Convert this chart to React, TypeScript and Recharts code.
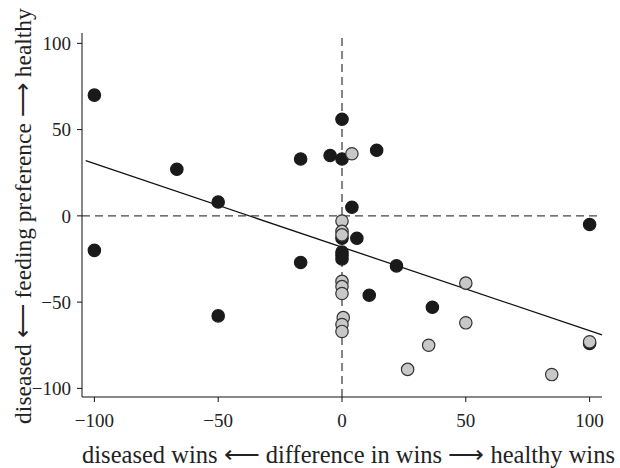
import { ScatterChart, Scatter, XAxis, YAxis, ReferenceLine } from "recharts";

// wins difference vs feeding preference
const blackX = [-100, -100, -66.7, -50, -50, -16.7, -16.7, -4.8, 0, 0, 0, 0, 0, 0, 4, 6, 11, 14, 22, 36.5, 100, 100];
const blackY = [70, -20, 27, 8, -58, 33, -27, 35, 56, 33, -13, -21, -23, -25, 5, -13, -46, 38, -29, -53, -5, -74];

const greyX = [4, 0, 0, 0, 0, 0, 0, 0.5, 0, 0, 26.5, 35, 50, 50, 84.7, 100];
const greyY = [36, -3, -9, -11, -38, -41, -45, -59, -63, -67, -89, -75, -39, -62, -92, -73];

// regression line end points
const fitX = [-103.5, 105];
const fitY = [32, -69];

const ticks = [-100, -50, 0, 50, 100];

const toPoints = (xs: number[], ys: number[]) => xs.map((x, i) => ({ x, y: ys[i] }));

const blackData = toPoints(blackX, blackY);
const greyData = toPoints(greyX, greyY);
const fitData = toPoints(fitX, fitY);

const font = "'Liberation Serif', 'Times New Roman', serif";

const Dot = (fill: string, stroke: string) => (p: any) => (
  <circle cx={p.cx} cy={p.cy} r={6.2} fill={fill} stroke={stroke} strokeWidth={1.2} />
);

export default function App() {
  return (
    <div style={{ position: "absolute", left: 0, top: 0, background: "#fff" }}>
      <ScatterChart width={620} height={468} margin={{ top: 33, right: 18, bottom: 0, left: 0 }}>
        <XAxis
          type="number"
          dataKey="x"
          domain={[-105, 105]}
          ticks={ticks}
          height={71}
          tickSize={5}
          tickMargin={12}
          stroke="#111"
          tick={{ fill: "#222", fontSize: 19, fontFamily: font }}
          tickFormatter={(v) => String(v).replace("-", "\u2212")}
          label={{
            content: () => (
              <text x={348.5} y={463} textAnchor="middle" fill="#222" fontSize={24.5} fontFamily={font}>
                diseased wins ⟵ difference in wins ⟶ healthy wins
              </text>
            ),
          }}
        />
        <YAxis
          type="number"
          dataKey="y"
          domain={[-105, 106]}
          ticks={ticks}
          width={82}
          tickSize={5}
          tickMargin={6}
          stroke="#111"
          tick={{ fill: "#222", fontSize: 19, fontFamily: font }}
          tickFormatter={(v) => String(v).replace("-", "\u2212")}
          label={{
            content: () => (
              <text
                x={0}
                y={0}
                transform="translate(31 216) rotate(-90)"
                textAnchor="middle"
                fill="#222"
                fontSize={23.5}
                fontFamily={font}
              >
                diseased ⟵ feeding preference ⟶ healthy
              </text>
            ),
          }}
        />
        <ReferenceLine x={0} stroke="#444" strokeDasharray="8 5" strokeWidth={1.3} />
        <ReferenceLine y={0} stroke="#444" strokeDasharray="8 5" strokeWidth={1.3} />
        <Scatter
          data={fitData}
          line={{ stroke: "#111", strokeWidth: 1.3 }}
          shape={() => <g />}
          isAnimationActive={false}
        />
        <Scatter data={blackData} shape={Dot("#1a1a1a", "#1a1a1a")} isAnimationActive={false} />
        <Scatter data={greyData} shape={Dot("#c8c8c8", "#333")} isAnimationActive={false} />
      </ScatterChart>
    </div>
  );
}
